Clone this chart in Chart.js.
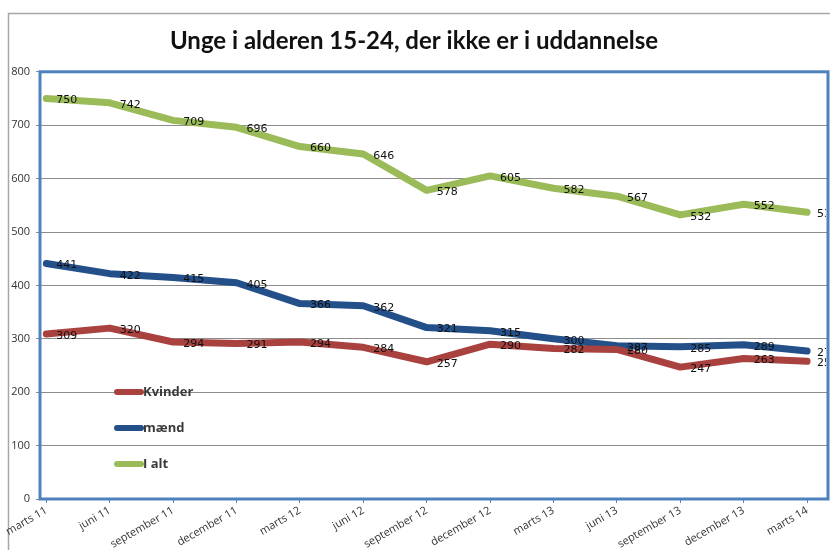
<!DOCTYPE html>
<html lang="da">
<head>
  <meta charset="UTF-8">
  <title>Unge i alderen 15-24</title>
  <script src="https://cdn.jsdelivr.net/npm/chart.js@4.4.1/dist/chart.umd.min.js"></script>
  <style>
    body { margin: 0; background: #fff; }
    .wrap { width: 830px; height: 550px; }
  </style>
</head>
<body>
  <div class="wrap"><canvas id="chart"></canvas></div>
  <script>
    // data
    const labels = ["marts 11", "juni 11", "september 11", "december 11", "marts 12", "juni 12",
      "september 12", "december 12", "marts 13", "juni 13", "september 13", "december 13", "marts 14"];
    const kvinder = [309, 320, 294, 291, 294, 284, 257, 290, 282, 280, 247, 263, 258];
    const maend = [441, 422, 415, 405, 366, 362, 321, 315, 300, 287, 285, 289, 277];
    const iAlt = [750, 742, 709, 696, 660, 646, 578, 605, 582, 567, 532, 552, 537];
    const yTicks = [0, 100, 200, 300, 400, 500, 600, 700, 800];

    const toPoints = arr => arr.map((v, i) => ({ x: i, y: v }));

    // ramme om plot og hele figuren
    const framePlugin = {
      id: 'frame',
      beforeDraw(chart) {
        const ctx = chart.ctx;
        ctx.save();
        ctx.strokeStyle = '#a6a6a6';
        ctx.lineWidth = 1.5;
        ctx.strokeRect(8.5, 13.5, 840, 560);
        ctx.restore();
      },
      afterDraw(chart) {
        const a = chart.chartArea, ctx = chart.ctx;
        ctx.save();
        ctx.strokeStyle = '#4f81bd';
        ctx.lineWidth = 3;
        ctx.strokeRect(a.left, a.top, a.right - a.left, a.bottom - a.top);
        ctx.restore();
      }
    };

    // tal ved punkterne
    const valuePlugin = {
      id: 'values',
      afterDatasetsDraw(chart) {
        const ctx = chart.ctx, a = chart.chartArea;
        ctx.save();
        ctx.beginPath();
        ctx.rect(a.left, a.top, a.right - a.left - 2, a.bottom - a.top);
        ctx.clip();
        ctx.font = '11px "DejaVu Sans", sans-serif';
        ctx.fillStyle = '#111';
        ctx.textAlign = 'left';
        ctx.textBaseline = 'middle';
        chart.data.datasets.forEach((ds, di) => {
          chart.getDatasetMeta(di).data.forEach((pt, i) => {
            ctx.fillText(String(ds.data[i].y), pt.x + 10, pt.y + 2);
          });
        });
        ctx.restore();
      }
    };

    // forklaring inde i plottet
    const legendPlugin = {
      id: 'innerLegend',
      afterDraw(chart) {
        const ctx = chart.ctx;
        const ys = [392, 428, 464];
        ctx.save();
        ctx.font = 'bold 13px "Open Sans", sans-serif';
        ctx.textBaseline = 'middle';
        chart.data.datasets.forEach((ds, k) => {
          ctx.strokeStyle = ds.borderColor;
          ctx.lineWidth = 6;
          ctx.lineCap = 'round';
          ctx.beginPath();
          ctx.moveTo(117, ys[k]);
          ctx.lineTo(141, ys[k]);
          ctx.stroke();
          ctx.fillStyle = '#3a3a3a';
          ctx.fillText(ds.label, 143, ys[k]);
        });
        ctx.restore();
      }
    };

    const ctx = document.getElementById('chart').getContext('2d');
    new Chart(ctx, {
      type: 'line',
      data: {
        datasets: [
          { label: 'Kvinder', data: toPoints(kvinder), borderColor: '#a9423f' },
          { label: 'mænd', data: toPoints(maend), borderColor: '#24508a' },
          { label: 'I alt', data: toPoints(iAlt), borderColor: '#9bbb59' }
        ]
      },
      options: {
        responsive: true,
        maintainAspectRatio: false,
        animation: false,
        layout: { padding: { left: 0, right: 2, top: 0, bottom: 0 } },
        elements: {
          line: { borderWidth: 7, tension: 0, borderCapStyle: 'round', borderJoinStyle: 'round' },
          point: { radius: 0, hoverRadius: 0 }
        },
        plugins: {
          legend: { display: false },
          tooltip: { enabled: false },
          title: {
            display: true,
            text: 'Unge i alderen 15-24, der ikke er i uddannelse',
            color: '#111',
            font: { family: 'Lato, "Open Sans", sans-serif', size: 24, weight: 'bold' },
            padding: { top: 27, bottom: 16 }
          }
        },
        scales: {
          x: {
            type: 'linear',
            min: -0.1,
            max: 12.33,
            afterBuildTicks: s => { s.ticks = labels.map((l, i) => ({ value: i })); },
            afterFit: s => { s.height = 51; },
            grid: { drawOnChartArea: false, drawTicks: true, tickLength: 4, color: '#4f81bd' },
            border: { display: false },
            ticks: {
              autoSkip: false,
              minRotation: 30,
              maxRotation: 30,
              padding: 1,
              color: '#333',
              font: { family: '"Open Sans", sans-serif', size: 11 },
              callback: v => labels[v] || ''
            }
          },
          y: {
            min: 0,
            max: 800,
            afterBuildTicks: s => { s.ticks = yTicks.map(v => ({ value: v })); },
            afterFit: s => { s.width = 40; },
            grid: { color: '#8c8c8c', lineWidth: 1, tickLength: 4 },
            border: { display: false },
            ticks: {
              color: '#333',
              padding: 6,
              font: { family: '"Open Sans", sans-serif', size: 11 }
            }
          }
        }
      },
      plugins: [framePlugin, valuePlugin, legendPlugin]
    });
  </script>
</body>
</html>
